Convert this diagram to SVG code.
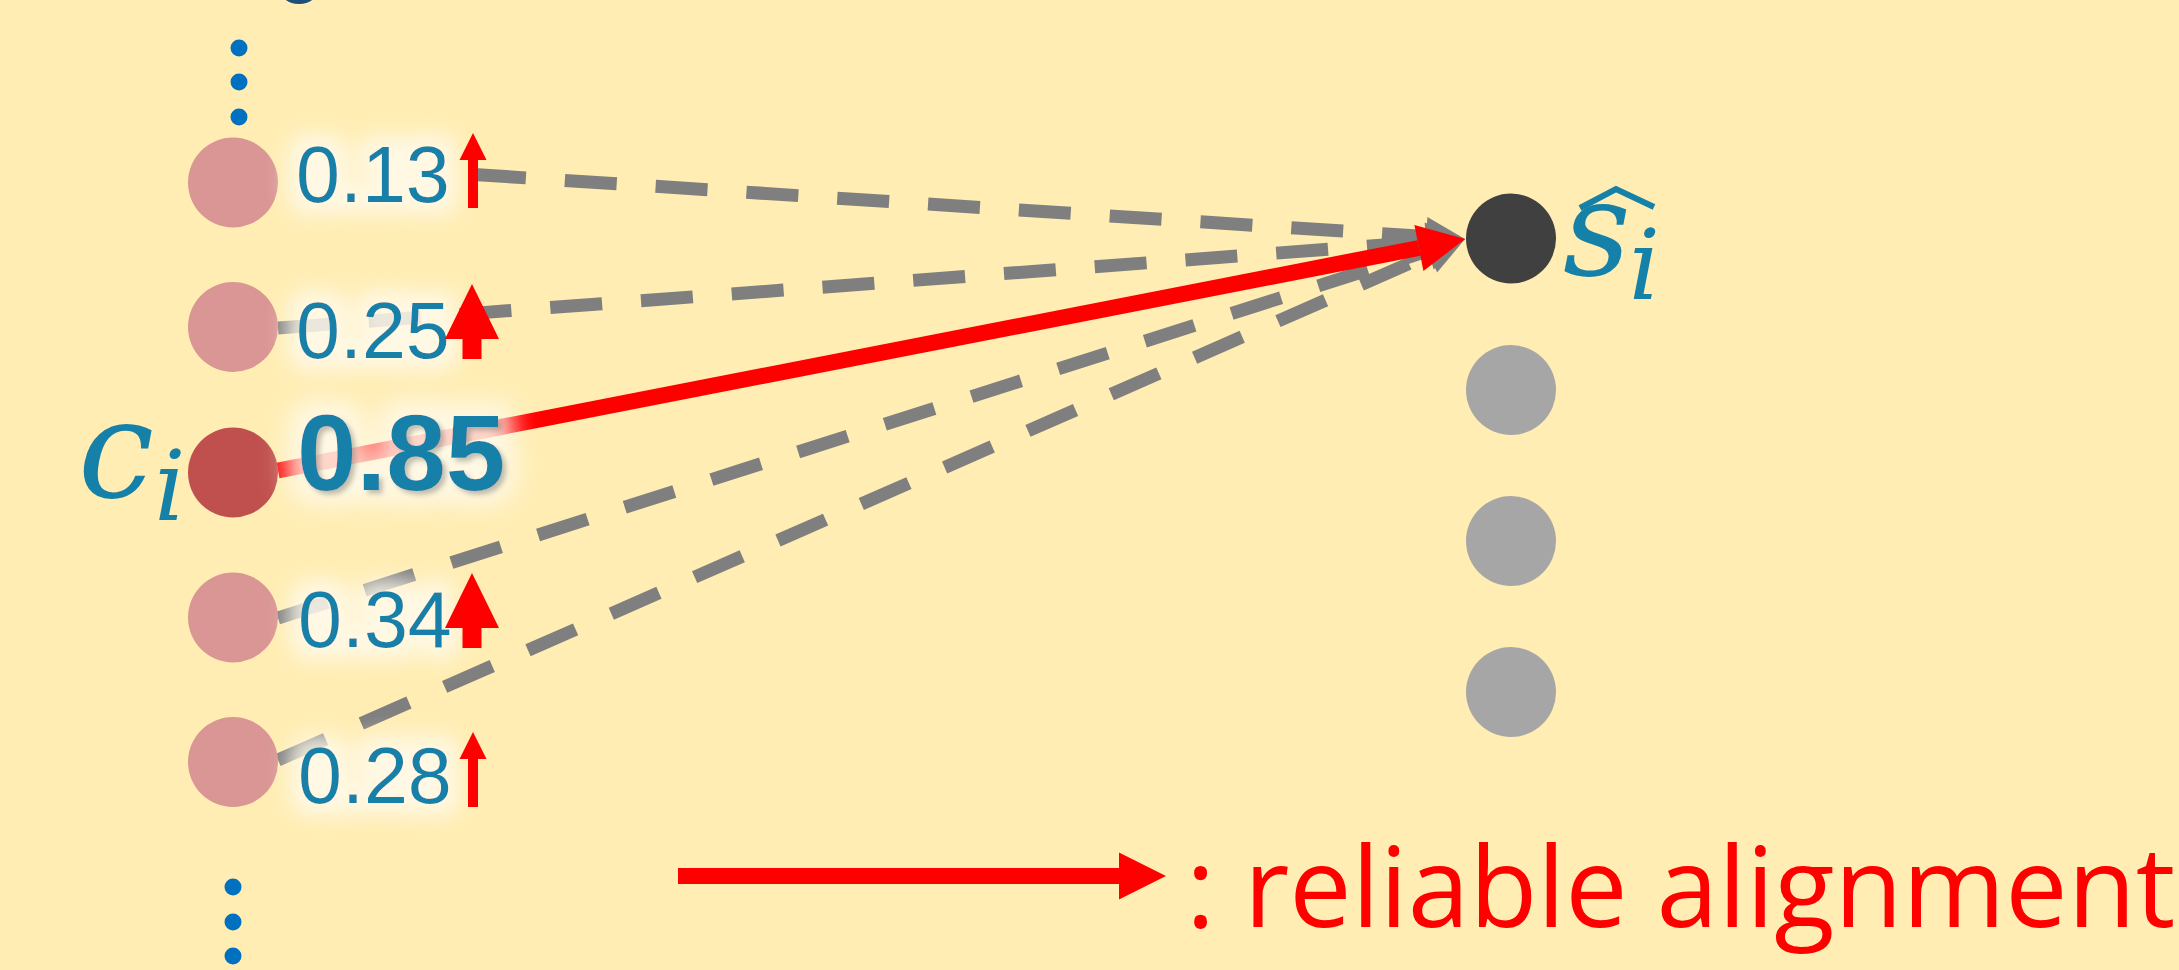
<svg xmlns="http://www.w3.org/2000/svg" width="2179" height="970" viewBox="0 0 2179 970">
  <style>
    .bg { fill: #FFEDB3; }
    .dot { fill: #0070C0; }
    .cand { fill: #D99694; }
    .cand-main { fill: #C0504D; }
    .tgt { fill: #A6A6A6; }
    .tgt-main { fill: #404040; }
    .score { font-family: "Liberation Sans", Arial, sans-serif; font-size: 79px; fill: #1580A8; }
    .score-main { font-family: "Liberation Sans", Arial, sans-serif; font-size: 107px; font-weight: bold; fill: #1580A8; }
    .math { font-family: "DejaVu Serif", "Liberation Serif", serif; font-style: italic; fill: #1580A8; }
    .dash { fill: none; stroke: #7F7F7F; stroke-width: 13; stroke-dasharray: 52 39; }
    .reliable { fill: none; stroke: #FF0000; stroke-width: 16; }
    .up { fill: #FF0000; }
    .legend-text { font-family: "Open Sans", "Noto Sans", sans-serif; font-size: 111px; fill: #FF0000; }
  </style>
  <defs>
    <marker id="headRed" markerUnits="userSpaceOnUse" markerWidth="60" markerHeight="60" refX="0" refY="0" orient="auto" viewBox="-5 -30 60 60" overflow="visible">
      <path d="M0,-23.5 L47,0 L0,23.5 Z" fill="#FF0000"/>
    </marker>
    <marker id="headGray" markerUnits="userSpaceOnUse" markerWidth="60" markerHeight="60" refX="0" refY="0" orient="auto" viewBox="-5 -30 60 60" overflow="visible">
      <path d="M0,-19.5 L39,0 L0,19.5 Z" fill="#7F7F7F"/>
    </marker>
    <path id="upSmall" d="M0,0 L13.5,27 L5,27 L5,75 L-5,75 L-5,27 L-13.5,27 Z"/>
    <path id="upBig" d="M0,0 L27,55 L9.5,55 L9.5,75 L-9.5,75 L-9.5,55 L-27,55 Z"/>
    <filter id="glow" x="-40%" y="-60%" width="180%" height="220%">
      <feMorphology in="SourceAlpha" operator="dilate" radius="12" result="d"/>
      <feGaussianBlur in="d" stdDeviation="10" result="b"/>
      <feFlood flood-color="#FFFAEC" flood-opacity="0.85"/>
      <feComposite in2="b" operator="in" result="g"/>
      <feMerge><feMergeNode in="g"/><feMergeNode in="SourceGraphic"/></feMerge>
    </filter>
    <filter id="glowShadow" x="-40%" y="-60%" width="180%" height="220%">
      <feMorphology in="SourceAlpha" operator="dilate" radius="14" result="d"/>
      <feGaussianBlur in="d" stdDeviation="12" result="b"/>
      <feFlood flood-color="#FFFAEC" flood-opacity="0.85"/>
      <feComposite in2="b" operator="in" result="g"/>
      <feOffset in="SourceAlpha" dx="4" dy="4" result="o"/>
      <feGaussianBlur in="o" stdDeviation="2.5" result="ob"/>
      <feFlood flood-color="#000000" flood-opacity="0.45"/>
      <feComposite in2="ob" operator="in" result="sh"/>
      <feMerge><feMergeNode in="g"/><feMergeNode in="sh"/><feMergeNode in="SourceGraphic"/></feMerge>
    </filter>
  </defs>

  <rect class="bg" x="0" y="0" width="2179" height="970"/>

  <!-- partial dark shape at top edge -->
  <ellipse cx="299" cy="-14" rx="21" ry="18" fill="#1F4E79"/>

  <g id="dots-top">
    <circle class="dot" cx="239" cy="48" r="8.5"/>
    <circle class="dot" cx="239" cy="82" r="8.5"/>
    <circle class="dot" cx="239" cy="117" r="8.5"/>
  </g>
  <g id="dots-bottom">
    <circle class="dot" cx="233" cy="887" r="8.5"/>
    <circle class="dot" cx="233" cy="922" r="8.5"/>
    <circle class="dot" cx="233" cy="956" r="8.5"/>
  </g>

  <g id="connectors">
    <line class="dash" x1="474" y1="174.5" x2="1426.1" y2="236.5" marker-end="url(#headGray)"/>
    <line class="dash" x1="278" y1="328" x2="1426.1" y2="241.9" marker-end="url(#headGray)"/>
    <line class="dash" x1="278" y1="618" x2="1427.8" y2="250.9" marker-end="url(#headGray)"/>
    <line class="dash" x1="278" y1="760" x2="1429.3" y2="254.7" marker-end="url(#headGray)"/>
    <line class="reliable" x1="278" y1="470.5" x2="1418.9" y2="248" marker-end="url(#headRed)"/>
  </g>

  <g id="node-c1">
    <circle class="cand" cx="233" cy="182.5" r="45"/>
    <text class="score" x="296" y="202" filter="url(#glow)">0.13</text>
    <use href="#upSmall" class="up" x="473" y="133"/>
  </g>
  <g id="node-c2">
    <circle class="cand" cx="233" cy="327" r="45"/>
    <text class="score" x="296" y="358" filter="url(#glow)">0.25</text>
    <use href="#upBig" class="up" x="472" y="284"/>
  </g>
  <g id="node-ci">
    <circle class="cand-main" cx="233" cy="472.5" r="45"/>
    <text class="score-main" x="297" y="490" filter="url(#glowShadow)">0.85</text>
    <text class="math" x="78" y="497" font-size="136">c<tspan font-size="98" dx="0" dy="23">i</tspan></text>
  </g>
  <g id="node-c4">
    <circle class="cand" cx="233" cy="617.5" r="45"/>
    <text class="score" x="298" y="647" filter="url(#glow)">0.34</text>
    <use href="#upBig" class="up" x="472" y="573"/>
  </g>
  <g id="node-c5">
    <circle class="cand" cx="233" cy="762" r="45"/>
    <text class="score" x="298" y="803" filter="url(#glow)">0.28</text>
    <use href="#upSmall" class="up" x="473" y="732"/>
  </g>

  <g id="node-si">
    <circle class="tgt-main" cx="1511" cy="238.5" r="45"/>
    <text class="math" x="1563" y="275" font-size="132">s<tspan font-size="98" dx="-2" dy="24">i</tspan></text>
    <polyline points="1580,208 1616,189 1654,207" fill="none" stroke="#1580A8" stroke-width="6"/>
  </g>
  <g id="node-t2"><circle class="tgt" cx="1511" cy="390" r="45"/></g>
  <g id="node-t3"><circle class="tgt" cx="1511" cy="541" r="45"/></g>
  <g id="node-t4"><circle class="tgt" cx="1511" cy="692" r="45"/></g>

  <g id="legend">
    <line class="reliable" x1="678" y1="876" x2="1119" y2="876" marker-end="url(#headRed)"/>
    <text class="legend-text" x="1186" y="927">: reliable alignment</text>
  </g>
</svg>
